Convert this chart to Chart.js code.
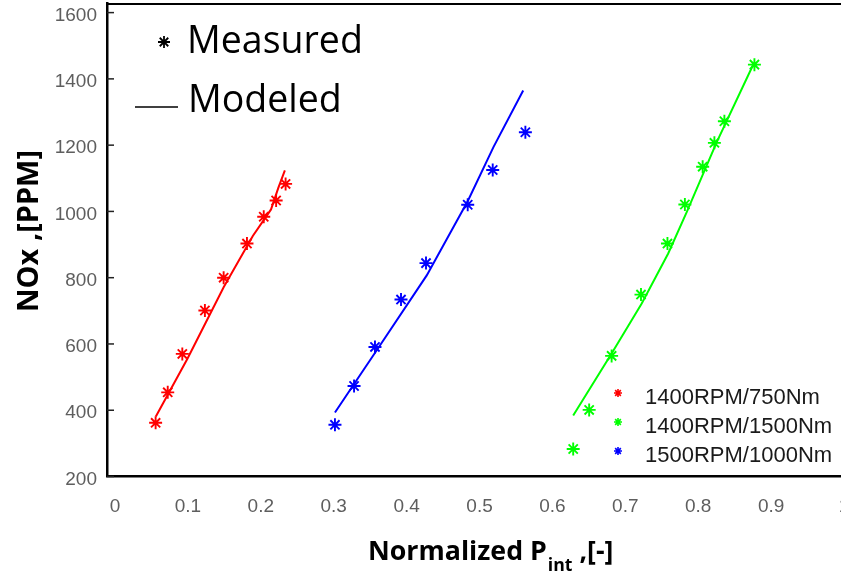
<!DOCTYPE html>
<html><head><meta charset="utf-8">
<script src="https://cdn.jsdelivr.net/npm/chart.js@4/dist/chart.umd.min.js"></script>
<style>
html,body{margin:0;padding:0;background:#fff;overflow:hidden;width:841px;height:575px}
canvas{display:block;position:absolute;left:0;top:-50px}
</style></head>
<body>
<canvas id="c" width="880" height="625"></canvas>
<script>
// ---- tick labels ----
const xTickValues = [0, 0.1, 0.2, 0.3, 0.4, 0.5, 0.6, 0.7, 0.8, 0.9, 1];
const yTickValues = [200, 400, 600, 800, 1000, 1200, 1400, 1600];

// ---- series names ----
const seriesNames = ['1400RPM/750Nm', '1400RPM/1500Nm', '1500RPM/1000Nm'];
const seriesColors = ['#ff0000', '#00ff00', '#0000ff'];

// ---- 1400RPM/750Nm ----
const red750MeasX = [0.0557, 0.0723, 0.0923, 0.1233, 0.149, 0.181, 0.204, 0.221, 0.234];
const red750MeasY = [362, 454, 570, 701, 800, 903, 984, 1033, 1083];
const red750ModX  = [0.056, 0.0995, 0.149, 0.189, 0.214, 0.224, 0.233];
const red750ModY  = [381, 556, 771, 926, 1006, 1071, 1124];

// ---- 1400RPM/1500Nm ----
const green1500MeasX = [0.6285, 0.6504, 0.6812, 0.7215, 0.7578, 0.7817, 0.8061, 0.8222, 0.8359, 0.8771];
const green1500MeasY = [283, 401, 564, 749, 903, 1021, 1135, 1207, 1272, 1443];
const green1500ModX  = [0.6285, 0.6812, 0.7225, 0.7588, 0.7842, 0.8254, 0.8752];
const green1500ModY  = [384, 571, 722, 873, 998, 1209, 1442];

// ---- 1500RPM/1000Nm ----
const blue1000MeasX = [0.3017, 0.3279, 0.3566, 0.3923, 0.4266, 0.4838, 0.5181, 0.5629];
const blue1000MeasY = [356, 473, 591, 734, 844, 1020, 1125, 1239];
const blue1000ModX  = [0.3017, 0.359, 0.4276, 0.4843, 0.5191, 0.5599];
const blue1000ModY  = [393, 581, 807, 1033, 1194, 1365];

const zip = (xs, ys) => xs.map((x, i) => ({x: x, y: ys[i]}));

function measured(label, xs, ys, color) {
  return {label: label + ' measured', data: zip(xs, ys), showLine: false,
    pointStyle: 'star', pointRadius: 6.5, pointBorderWidth: 1.9,
    borderColor: color, backgroundColor: color, pointHoverRadius: 6.5};
}
function modeled(label, xs, ys, color) {
  return {label: label + ' modeled', data: zip(xs, ys), showLine: true,
    pointRadius: 0, borderWidth: 2, borderColor: color, backgroundColor: color,
    tension: 0, fill: false};
}

const OFF = 50; // canvas is shifted up by OFF px on the page
const FAM = '"Open Sans", sans-serif';
function fit(ctx, text, weight, target) {
  ctx.font = weight + ' 100px ' + FAM;
  return 100 * target / ctx.measureText(text).width;
}

const decorPlugin = {
  id: 'decor',
  afterDraw(chart) {
    const ctx = chart.ctx, a = chart.chartArea;
    const ys = chart.scales.y;
    ctx.save();
    // top frame line
    ctx.strokeStyle = '#000'; ctx.lineWidth = 2;
    ctx.beginPath(); ctx.moveTo(a.left - 1, a.top + 1); ctx.lineTo(a.right, a.top + 1); ctx.stroke();
    // inward y tick marks
    ctx.strokeStyle = '#222'; ctx.lineWidth = 1.5;
    ys.ticks.forEach(t => { const p = ys.getPixelForValue(t.value);
      ctx.beginPath(); ctx.moveTo(a.left, p); ctx.lineTo(a.left + 7, p); ctx.stroke(); });

    ctx.translate(0, OFF);
    // Y title (rotated)
    ctx.fillStyle = '#000';
    const yt = 'NOx ,[PPM]';
    const ys1 = fit(ctx, yt, 'bold', 162);
    ctx.save();
    ctx.translate(38, 231); ctx.rotate(-Math.PI / 2);
    ctx.font = 'bold ' + ys1 + 'px ' + FAM;
    ctx.textAlign = 'center'; ctx.textBaseline = 'alphabetic';
    ctx.fillText(yt, 0, 0);
    ctx.restore();

    // X title with subscript
    const p1 = 'Normalized P', sub = 'int', p2 = ' ,[-]';
    const xsz = fit(ctx, p1, 'bold', 179);
    ctx.textAlign = 'left'; ctx.textBaseline = 'alphabetic';
    let cx = 368;
    ctx.font = 'bold ' + xsz + 'px ' + FAM; ctx.fillText(p1, cx, 560); cx += ctx.measureText(p1).width;
    ctx.font = 'bold ' + (xsz * 0.66) + 'px ' + FAM; ctx.fillText(sub, cx + 1, 571); cx += ctx.measureText(sub).width + 1;
    ctx.font = 'bold ' + xsz + 'px ' + FAM; ctx.fillText(p2, cx, 560);

    // big legend: Measured / Modeled
    const ms = fit(ctx, 'Measured', 'normal', 176);
    ctx.font = ms + 'px ' + FAM;
    ctx.fillText('Measured', 187, 53);
    ctx.fillText('Modeled', 188, 112);
    drawStar(ctx, 164, 42, 6, '#000', 1.8);
    ctx.strokeStyle = '#000'; ctx.lineWidth = 1.5;
    ctx.beginPath(); ctx.moveTo(135, 107); ctx.lineTo(178, 107); ctx.stroke();

    // small series legend
    ctx.font = '22px "Liberation Sans", Arial, sans-serif';
    ctx.fillStyle = '#1a1a1a';
    const ly = [404, 433, 462];
    seriesNames.forEach((n, i) => {
      ctx.fillText(n, 645, ly[i]);
      drawStar(ctx, 618, ly[i] - 11, 4, seriesColors[i], 1.6);
    });
    ctx.restore();
  }
};

function drawStar(ctx, x, y, r, color, w) {
  ctx.save();
  ctx.strokeStyle = color; ctx.lineWidth = w;
  ctx.beginPath();
  for (let k = 0; k < 4; k++) {
    const ang = k * Math.PI / 4;
    ctx.moveTo(x - r * Math.cos(ang), y - r * Math.sin(ang));
    ctx.lineTo(x + r * Math.cos(ang), y + r * Math.sin(ang));
  }
  ctx.stroke();
  ctx.restore();
}

const tickFont = {family: '"Liberation Sans", Arial, sans-serif', size: 19};

new Chart(document.getElementById('c'), {
  type: 'scatter',
  data: {
    datasets: [
      modeled(seriesNames[0], red750ModX, red750ModY, seriesColors[0]),
      measured(seriesNames[0], red750MeasX, red750MeasY, seriesColors[0]),
      modeled(seriesNames[2], blue1000ModX, blue1000ModY, seriesColors[2]),
      measured(seriesNames[2], blue1000MeasX, blue1000MeasY, seriesColors[2]),
      modeled(seriesNames[1], green1500ModX, green1500ModY, seriesColors[1]),
      measured(seriesNames[1], green1500MeasX, green1500MeasY, seriesColors[1])
    ]
  },
  options: {
    responsive: false,
    animation: false,
    layout: {autoPadding: false, padding: {top: 3 + OFF, left: 0, right: 21.4, bottom: 0}},
    plugins: {legend: {display: false}, tooltip: {enabled: false}},
    scales: {
      x: {
        type: 'linear', min: -0.011, max: 1.02,
        afterBuildTicks: s => { s.ticks = xTickValues.map(v => ({value: v})); },
        afterFit: s => { s.height = 98.5; },
        grid: {display: false, drawTicks: false},
        border: {display: true, color: '#000', width: 2.5},
        ticks: {font: tickFont, color: '#5e5e5e', padding: 19, maxRotation: 0, autoSkip: false,
          callback: v => String(v)}
      },
      y: {
        type: 'linear', min: 200, max: 1629,
        afterBuildTicks: s => { s.ticks = yTickValues.map(v => ({value: v})); },
        afterFit: s => { s.width = 107; },
        grid: {display: false, drawTicks: false},
        border: {display: true, color: '#000', width: 2.5},
        ticks: {font: tickFont, color: '#5e5e5e', padding: 10, labelOffset: 3, autoSkip: false,
          callback: v => String(v)}
      }
    }
  },
  plugins: [decorPlugin]
});
</script>
</body></html>
